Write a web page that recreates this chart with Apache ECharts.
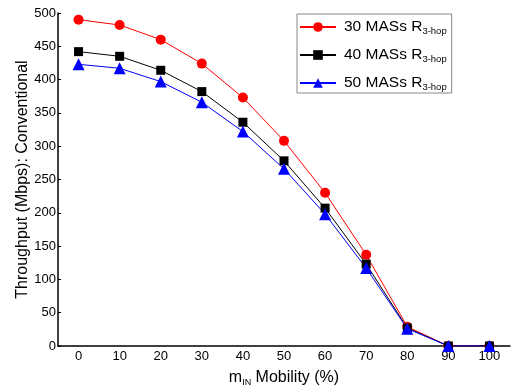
<!DOCTYPE html>
<html>
<head>
<meta charset="utf-8">
<script src="https://cdn.jsdelivr.net/npm/echarts@6/dist/echarts.min.js"></script>
<style>
  html, body { margin: 0; padding: 0; background: #fff; }
  #chart { width: 513px; height: 387px; }
</style>
</head>
<body>
<div id="chart"></div>
<script>
// mobility categories (%)
const mobility = ["0", "10", "20", "30", "40", "50", "60", "70", "80", "90", "100"];
const yTicks = { min: 0, max: 500, interval: 50 };

// throughput values (Mbps)
const mas30 = [490, 482, 460, 424, 373, 308, 230, 137, 29, 0, 0];
const mas40 = [442, 435, 414, 382, 336, 278, 207, 123, 27, 0, 0];
const mas50 = [423, 417, 397, 366, 322, 266, 198, 117, 26, 0, 0];

const seriesNames = ["30 MASs R", "40 MASs R", "50 MASs R"];
const font = "Liberation Sans, Arial, sans-serif";

const chart = echarts.init(document.getElementById("chart"));

function lineSeries(name, data, color, symbol, size) {
  return {
    name,
    type: "line",
    data,
    symbol,
    symbolSize: size,
    showSymbol: true,
    lineStyle: { color, width: 1 },
    itemStyle: { color },
    animation: false,
  };
}

chart.setOption({
  animation: false,
  grid: { left: 58, top: 13, right: 3, bottom: 41, outerBoundsMode: "none", containLabel: false },
  legend: {
    orient: "vertical",
    left: 297,
    top: 14,
    padding: [4, 5, 1, 2],
    itemGap: 10,
    itemWidth: 36,
    itemHeight: 12,
    borderColor: "#888",
    borderWidth: 1,
    formatter: (name) => `{a|${name}}{sub|3-hop}`,
    textStyle: {
      fontFamily: font,
      color: "#000",
      rich: {
        a: { fontSize: 15.5, fontFamily: font, color: "#000", lineHeight: 18, padding: [0, 0, 0, 3] },
        sub: { fontSize: 9.5, fontFamily: font, color: "#000", padding: [8, 0, 0, 0], lineHeight: 18 },
      },
    },
  },
  xAxis: {
    type: "category",
    data: mobility,
    boundaryGap: true,
    name: "{m|m}{s|IN}{m| Mobility (%)}",
    nameLocation: "middle",
    nameGap: 22,
    nameTextStyle: {
      rich: {
        m: { fontSize: 16, fontFamily: font, color: "#000" },
        s: { fontSize: 9, fontFamily: font, color: "#000", padding: [10, 0, 0, 0] },
      },
    },
    axisLine: { lineStyle: { color: "#000", width: 1.5 } },
    axisTick: { show: false },
    axisLabel: { color: "#000", fontSize: 13, fontFamily: font, margin: 4 },
    splitLine: { show: false },
  },
  yAxis: {
    type: "value",
    min: yTicks.min,
    max: yTicks.max,
    interval: yTicks.interval,
    name: "Throughput (Mbps): Conventional",
    nameLocation: "middle",
    nameGap: 27,
    nameMoveOverlap: false,
    nameTextStyle: { fontSize: 16, fontFamily: font, color: "#000" },
    axisLine: { show: true, lineStyle: { color: "#000", width: 1.5 } },
    axisTick: { show: true, inside: true, length: 3, lineStyle: { color: "#000" } },
    axisLabel: { color: "#000", fontSize: 13, fontFamily: font, margin: 2 },
    splitLine: { show: false },
  },
  series: [
    lineSeries(seriesNames[0], mas30, "#ff0000", "circle", 10),
    lineSeries(seriesNames[1], mas40, "#000000", "rect", 9),
    lineSeries(seriesNames[2], mas50, "#0000ff", "triangle", 12),
  ],
});
</script>
</body>
</html>
